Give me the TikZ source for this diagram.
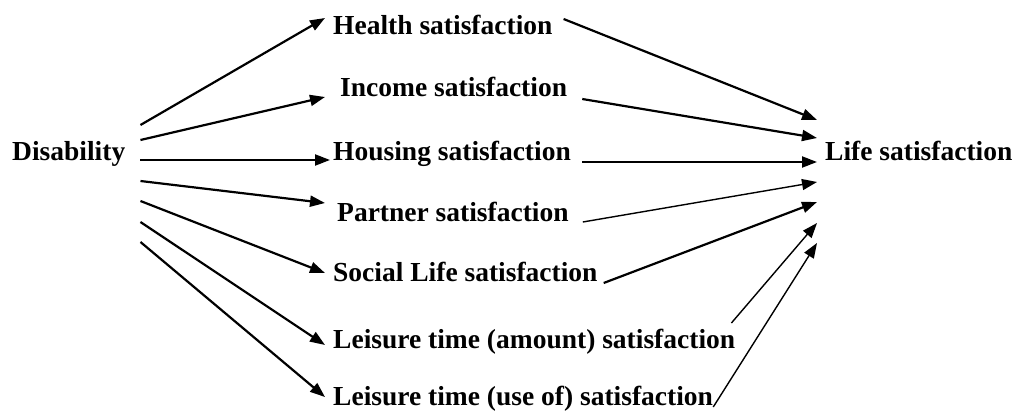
\documentclass[tikz,border=0pt]{standalone}
\usepackage{fontspec}
\setmainfont{Liberation Serif}
\usetikzlibrary{arrows.meta}

\begin{document}
\begin{tikzpicture}[x=1pt, y=1pt,
    var/.style={anchor=west, inner sep=6pt, text height=0.7em, text depth=0.25em,
                font=\bfseries\fontsize{27.5}{33}\selectfont},
    arr/.style={-{Triangle[length=15pt,width=11pt]}, line width=2.2pt},
    thinarr/.style={arr, line width=1.4pt}]
    \useasboundingbox (0,0) rectangle (1019,418);
    % outcome chain: disability -> domains -> life
    \node[var] (dis) at (6,260) {Disability};
    \node[var] (hea) at (327,386) {Health satisfaction};
    \node[var] (inc) at (334,324) {Income satisfaction};
    \node[var] (hou) at (327,260) {Housing satisfaction};
    \node[var] (par) at (331,199) {Partner satisfaction};
    \node[var] (soc) at (327,139) {Social Life satisfaction};
    \node[var] (lam) at (327,72) {Leisure time (amount) satisfaction};
    \node[var] (luse) at (327,15) {Leisure time (use of) satisfaction};
    \node[var] (life) at (819,260) {Life satisfaction};

    \draw[arr] ([xshift=9pt,yshift=33pt]dis.east) -- ([xshift=-2pt,yshift=14pt]hea.west);
    \draw[arr] ([xshift=9pt,yshift=18pt]dis.east) -- ([xshift=-9pt,yshift=-3pt]inc.west);
    \draw[arr] ([xshift=9pt,yshift=-2pt]dis.east) -- ([xshift=3pt,yshift=-2pt]hou.west);
    \draw[arr] ([xshift=9pt,yshift=-23pt]dis.east) -- ([xshift=-6pt,yshift=16pt]par.west);
    \draw[arr] ([xshift=9pt,yshift=-43pt]dis.east) -- ([xshift=-2pt,yshift=6pt]soc.west);
    \draw[arr] ([xshift=9pt,yshift=-64pt]dis.east) -- ([xshift=-2pt,yshift=1pt]lam.west);
    \draw[arr] ([xshift=9pt,yshift=-84pt]dis.east) -- ([xshift=-2pt,yshift=6pt]luse.west);

    \draw[arr] ([xshift=5pt,yshift=13pt]hea.east) -- ([xshift=-2pt,yshift=38pt]life.west);
    \draw[arr] ([xshift=9pt,yshift=-5pt]inc.east) -- ([xshift=-2pt,yshift=20pt]life.west);
    \draw[arr] ([xshift=5pt,yshift=-4pt]hou.east) -- ([xshift=-2pt,yshift=-4pt]life.west);
    \draw[thinarr] ([xshift=8pt,yshift=-3pt]par.east) -- ([xshift=-2pt,yshift=-24pt]life.west);
    \draw[arr] ([yshift=-4pt]soc.east) -- ([xshift=-2pt,yshift=-44pt]life.west);
    \draw[thinarr] ([xshift=-10pt,yshift=23pt]lam.east) -- ([xshift=-2pt,yshift=-65pt]life.west);
    \draw[thinarr] ([xshift=-6pt,yshift=-4pt]luse.east) -- ([xshift=-2pt,yshift=-85pt]life.west);
\end{tikzpicture}
\end{document}
